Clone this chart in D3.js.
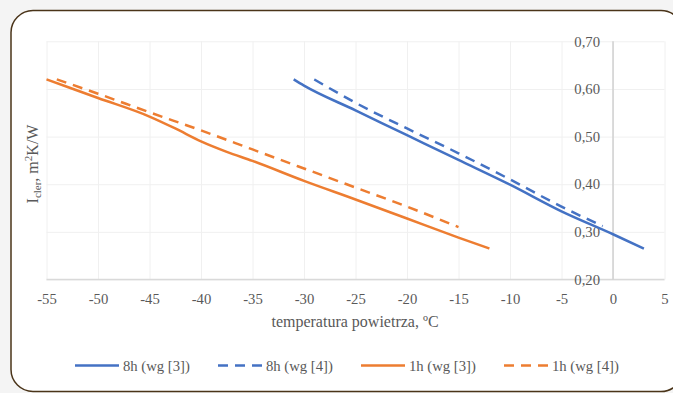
<!DOCTYPE html>
<html>
<head>
<meta charset="utf-8">
<script src="https://cdn.jsdelivr.net/npm/d3@7"></script>
<style>
  body { margin: 0; background: #f4f4f4; }
  svg { display: block; }
</style>
</head>
<body>
<div id="container"></div>
<script>
const temp8h3 = [-31, -30, -25, -20, -15, -10, -5, 0, 3];
const val8h3 = [0.62, 0.607, 0.555, 0.503, 0.451, 0.399, 0.343, 0.295, 0.265];

const temp8h4 = [-29, -25, -20, -15, -10, -5, -1];
const val8h4 = [0.62, 0.571, 0.517, 0.465, 0.41, 0.353, 0.312];

const temp1h3 = [-55, -50, -45, -42.5, -40, -37.5, -35, -30, -25, -20, -15, -12];
const val1h3 = [0.62, 0.581, 0.542, 0.517, 0.49, 0.468, 0.449, 0.407, 0.368, 0.328, 0.288, 0.265];

const temp1h4 = [-54, -50, -45, -40, -35, -30, -25, -20, -15];
const val1h4 = [0.62, 0.59, 0.551, 0.513, 0.473, 0.433, 0.393, 0.353, 0.31];

const xTicks = [-55, -50, -45, -40, -35, -30, -25, -20, -15, -10, -5, 0, 5];
const yTicks = [0.2, 0.3, 0.4, 0.5, 0.6, 0.7];

const seriesNames = ['8h (wg [3])', '8h (wg [4])', '1h (wg [3])', '1h (wg [4])'];

const blue = '#4472c4';
const orange = '#ed7d31';
const textColor = '#595959';
const font = '"Liberation Serif", "Times New Roman", serif';

const series = [
    { name: seriesNames[0], t: temp8h3, v: val8h3, color: blue, dash: null },
    { name: seriesNames[1], t: temp8h4, v: val8h4, color: blue, dash: '10,7' },
    { name: seriesNames[2], t: temp1h3, v: val1h3, color: orange, dash: null },
    { name: seriesNames[3], t: temp1h4, v: val1h4, color: orange, dash: '10,7' }
];

const W = 673, H = 393;
const plot = { left: 46.5, right: 664.5, top: 41.3, bottom: 279.5 };

const svg = d3.select('#container')
    .append('svg')
    .attr('width', W)
    .attr('height', H)
    .attr('font-family', font);

// card
svg.append('rect')
    .attr('x', 11)
    .attr('y', 10.5)
    .attr('width', 672)
    .attr('height', 381)
    .attr('rx', 22)
    .attr('fill', '#ffffff')
    .attr('stroke', '#4a3419')
    .attr('stroke-width', 1.5);

const x = d3.scaleLinear().domain([-55, 5]).range([plot.left, plot.right]);
const y = d3.scaleLinear().domain([0.2, 0.7]).range([plot.bottom, plot.top]);

const comma = d3.formatLocale({ decimal: ',', thousands: ' ', grouping: [3], currency: ['', ''] }).format('.2f');

// grid
const gridX = svg.append('g')
    .attr('transform', `translate(0, ${plot.bottom})`)
    .call(d3.axisBottom(x).tickValues(xTicks).tickSize(-(plot.bottom - plot.top)).tickFormat(''));
const gridY = svg.append('g')
    .attr('transform', `translate(${plot.left}, 0)`)
    .call(d3.axisLeft(y).tickValues(yTicks).tickSize(-(plot.right - plot.left)).tickFormat(''));
[gridX, gridY].forEach(g => {
    g.select('.domain').remove();
    g.selectAll('line').attr('stroke', '#f0f0f0').attr('stroke-width', 1);
});

// axis lines
svg.append('line')
    .attr('x1', plot.left).attr('x2', plot.right)
    .attr('y1', plot.bottom).attr('y2', plot.bottom)
    .attr('stroke', '#d9d9d9').attr('stroke-width', 1.5);
svg.append('line')
    .attr('x1', x(0)).attr('x2', x(0))
    .attr('y1', plot.top).attr('y2', plot.bottom)
    .attr('stroke', '#d0d0d0').attr('stroke-width', 1.5);

// tick labels
const xAxis = svg.append('g')
    .attr('transform', `translate(0, ${plot.bottom})`)
    .call(d3.axisBottom(x).tickValues(xTicks).tickSize(0).tickPadding(14).tickFormat(d => String(d)));
const yAxis = svg.append('g')
    .attr('transform', `translate(${x(0)}, 0)`)
    .call(d3.axisLeft(y).tickValues(yTicks).tickSize(0).tickPadding(13).tickFormat(comma));
[xAxis, yAxis].forEach(g => {
    g.select('.domain').remove();
    g.selectAll('text')
        .attr('fill', textColor)
        .attr('font-family', font)
        .attr('font-size', 14.7);
});

// lines
const line = d3.line().curve(d3.curveMonotoneX);
svg.append('g')
    .selectAll('path')
    .data(series).enter()
    .append('path')
    .attr('d', s => line(s.t.map((t, i) => [x(t), y(s.v[i])])))
    .attr('fill', 'none')
    .attr('stroke', s => s.color)
    .attr('stroke-width', 2.5)
    .attr('stroke-dasharray', s => s.dash);

// axis titles
svg.append('text')
    .attr('x', 355)
    .attr('y', 327)
    .attr('text-anchor', 'middle')
    .attr('fill', textColor)
    .attr('font-size', 16)
    .html('temperatura powietrza, <tspan>º</tspan>C');

const yTitle = svg.append('text')
    .attr('transform', 'translate(38, 164) rotate(-90)')
    .attr('text-anchor', 'middle')
    .attr('fill', textColor)
    .attr('font-size', 16);
yTitle.append('tspan').text('I');
yTitle.append('tspan').attr('font-size', 11).attr('dy', 3).text('cler');
yTitle.append('tspan').attr('dy', -3).text(', m');
yTitle.append('tspan').attr('font-size', 11).attr('dy', -6).text('2');
yTitle.append('tspan').attr('dy', 6).text('K/W');

// legend
const legend = svg.append('g')
    .selectAll('g')
    .data(series).enter()
    .append('g')
    .attr('transform', (d, i) => `translate(${75 + i * 143}, 365.5)`);
legend.append('line')
    .attr('x1', 0).attr('x2', 44)
    .attr('stroke', d => d.color)
    .attr('stroke-width', 2.5)
    .attr('stroke-dasharray', d => d.dash);
legend.append('text')
    .attr('x', 48)
    .attr('dy', '0.35em')
    .attr('fill', textColor)
    .attr('font-size', 14.7)
    .text(d => d.name);
</script>
</body>
</html>
